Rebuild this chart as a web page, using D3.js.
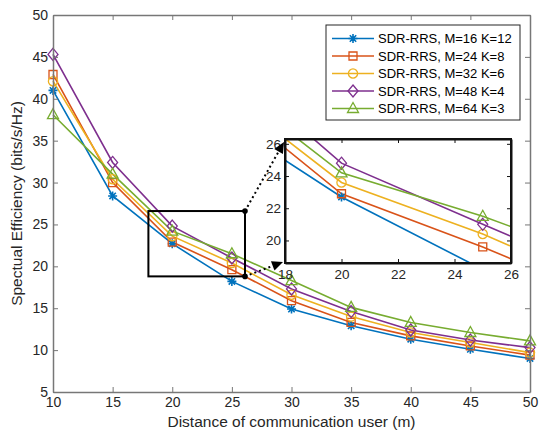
<!DOCTYPE html>
<html>
<head>
<meta charset="utf-8">
<title>Spectual Efficiency</title>
<script src="https://d3js.org/d3.v7.min.js"></script>
<style>
*{
	margin: 0;
	padding: 0;
}
body{
	background: #fff;
}
svg{
	display: block;
	font-family: "Liberation Sans", Arial, sans-serif;
}
</style>
</head>
<body>
<script>

var width = 540;
var height = 436;

// data
var distance = [10, 15, 20, 25, 30, 35, 40, 45, 50];
var m16k12 = [41.0, 28.4, 22.7, 18.2, 14.9, 12.9, 11.3, 10.1, 9.0];
var m24k8  = [42.9, 30.0, 22.9, 19.6, 15.9, 13.3, 11.7, 10.5, 9.4];
var m32k6  = [42.1, 30.4, 23.6, 20.4, 16.6, 14.0, 12.1, 10.9, 9.7];
var m48k4  = [45.3, 32.4, 24.8, 21.0, 17.3, 14.6, 12.4, 11.2, 10.3];
var m64k3  = [38.1, 31.0, 24.2, 21.5, 18.3, 15.1, 13.3, 12.1, 11.1];
var seriesNames = ['SDR-RRS, M=16 K=12', 'SDR-RRS, M=24 K=8', 'SDR-RRS, M=32 K=6', 'SDR-RRS, M=48 K=4', 'SDR-RRS, M=64 K=3'];

var xTicks = [10, 15, 20, 25, 30, 35, 40, 45, 50];
var yTicks = [5, 10, 15, 20, 25, 30, 35, 40, 45, 50];
var insetXTicks = [18, 20, 22, 24, 26];
var insetYTicks = [20, 22, 24, 26];
var zoomX = [18, 26.1];
var zoomY = [18.8, 26.6];

var colors = ['#0072BD', '#D95319', '#EDB120', '#7E2F8E', '#77AC30'];
var markers = ['star', 'square', 'circle', 'diamond', 'triangle'];
var axisColor = '#262626';
var frameColor = '#777';

var series = [m16k12, m24k8, m32k6, m48k4, m64k3].map(function(vals, i){
	return {name: seriesNames[i], color: colors[i], marker: markers[i],
		pts: vals.map(function(v, j){ return {x: distance[j], y: v}; })};
});

var svg = d3.select("body")
			.append("svg")
			.attr("width", width)
			.attr("height", height);

svg.append('rect').attr('width', width).attr('height', height).attr('fill', '#fff');

// marker path centred on 0,0
function markerPath(type){
	if(type == 'star') return 'M-4.5,0H4.5M0,-4.5V4.5M-3.2,-3.2L3.2,3.2M-3.2,3.2L3.2,-3.2';
	if(type == 'square') return 'M-4,-4H4V4H-4Z';
	if(type == 'circle') return 'M4.6,0A4.6,4.6 0 1,1 -4.6,0A4.6,4.6 0 1,1 4.6,0Z';
	if(type == 'diamond') return 'M0,-6L5,0L0,6L-5,0Z';
	return 'M0,-6L5.5,4L-5.5,4Z';
}

function drawSeries(g, x, y, clipId){
	var line = d3.line().x(function(d){ return x(d.x); }).y(function(d){ return y(d.y); });
	var layer = g.append('g');
	if(clipId) layer.attr('clip-path', 'url(#' + clipId + ')');
	layer.selectAll('path.ln').data(series).enter().append('path')
		.attr('class', 'ln')
		.attr('d', function(d){ return line(d.pts); })
		.attr('fill', 'none')
		.attr('stroke', function(d){ return d.color; })
		.attr('stroke-width', 1.6);
	series.forEach(function(s){
		layer.selectAll(null).data(s.pts).enter().append('path')
			.attr('transform', function(d){ return 'translate(' + x(d.x) + ',' + y(d.y) + ')'; })
			.attr('d', markerPath(s.marker))
			.attr('fill', 'none')
			.attr('stroke', s.color)
			.attr('stroke-width', s.marker == 'star' ? 1.6 : 1.3);
	});
}

function styleAxis(g, size, lineColor, lw){
	g.selectAll('.domain').attr('stroke', lineColor).attr('stroke-width', lw);
	g.selectAll('.tick line').attr('stroke', lineColor);
	g.selectAll('.tick text').attr('fill', axisColor).style('font-size', size + 'px').style('font-family', '"Liberation Sans", Arial, sans-serif');
}

// ---------- main axes
var pL = 53, pR = 530, pT = 15, pB = 392;
var x = d3.scaleLinear().domain([10, 50]).range([pL, pR]);
var y = d3.scaleLinear().domain([5, 50]).range([pB, pT]);

drawSeries(svg, x, y, null);

var gx = svg.append('g').attr('transform', 'translate(0,' + pB + ')')
	.call(d3.axisBottom(x).tickValues(xTicks).tickSizeInner(-5).tickSizeOuter(0).tickPadding(5));
styleAxis(gx, 14, frameColor, 1.5);
var gx2 = svg.append('g').attr('transform', 'translate(0,' + pT + ')')
	.call(d3.axisTop(x).tickValues(xTicks).tickSizeInner(-5).tickSizeOuter(0).tickFormat(''));
styleAxis(gx2, 14, frameColor, 1.5);
var gy = svg.append('g').attr('transform', 'translate(' + pL + ',0)')
	.call(d3.axisLeft(y).tickValues(yTicks).tickSizeInner(-5).tickSizeOuter(0).tickPadding(5));
styleAxis(gy, 14, frameColor, 1.5);
var gy2 = svg.append('g').attr('transform', 'translate(' + pR + ',0)')
	.call(d3.axisRight(y).tickValues(yTicks).tickSizeInner(-5).tickSizeOuter(0).tickFormat(''));
styleAxis(gy2, 14, frameColor, 1.5);

svg.append('text')
	.attr('x', (pL + pR) / 2).attr('y', 427)
	.attr('text-anchor', 'middle')
	.attr('fill', axisColor)
	.style('font-size', '15.5px')
	.text('Distance of communication user (m)');

svg.append('text')
	.attr('transform', 'translate(22,' + (pT + pB) / 2 + ') rotate(-90)')
	.attr('text-anchor', 'middle')
	.attr('fill', axisColor)
	.style('font-size', '15.5px')
	.text('Spectual Efficiency (bits/s/Hz)');

// zoom rectangle
svg.append('rect')
	.attr('x', x(zoomX[0])).attr('y', y(zoomY[1]))
	.attr('width', x(zoomX[1]) - x(zoomX[0]))
	.attr('height', y(zoomY[0]) - y(zoomY[1]))
	.attr('fill', 'none').attr('stroke', '#000').attr('stroke-width', 2);

// ---------- inset
var iL = 285, iR = 511, iT = 139, iB = 263;
var ix = d3.scaleLinear().domain([18, 26]).range([iL, iR]);
var iy = d3.scaleLinear().domain([18.6, 26.3]).range([iB, iT]);

svg.append('defs').append('clipPath').attr('id', 'insetClip')
	.append('rect').attr('x', iL).attr('y', iT).attr('width', iR - iL).attr('height', iB - iT);

var inset = svg.append('g');
inset.append('rect').attr('x', iL).attr('y', iT).attr('width', iR - iL).attr('height', iB - iT).attr('fill', '#fff');
drawSeries(inset, ix, iy, 'insetClip');

var ix1 = inset.append('g').attr('transform', 'translate(0,' + iB + ')')
	.call(d3.axisBottom(ix).tickValues(insetXTicks).tickSizeInner(-4).tickSizeOuter(0).tickPadding(6));
styleAxis(ix1, 13.5, '#111', 2);
var ix2 = inset.append('g').attr('transform', 'translate(0,' + iT + ')')
	.call(d3.axisTop(ix).tickValues(insetXTicks).tickSizeInner(-4).tickSizeOuter(0).tickFormat(''));
styleAxis(ix2, 13.5, '#111', 2);
var iy1 = inset.append('g').attr('transform', 'translate(' + iL + ',0)')
	.call(d3.axisLeft(iy).tickValues(insetYTicks).tickSizeInner(-4).tickSizeOuter(0).tickPadding(4));
styleAxis(iy1, 13.5, '#111', 2);
var iy2 = inset.append('g').attr('transform', 'translate(' + iR + ',0)')
	.call(d3.axisRight(iy).tickValues(insetYTicks).tickSizeInner(-4).tickSizeOuter(0).tickFormat(''));
styleAxis(iy2, 13.5, '#111', 2);
inset.append('rect').attr('x', iL).attr('y', iT).attr('width', iR - iL).attr('height', iB - iT)
	.attr('fill', 'none').attr('stroke', '#111').attr('stroke-width', 2);

// dotted arrows from the zoom box to the inset
var arrows = [
	{x1: x(zoomX[1]), y1: y(zoomY[1]), x2: iL - 1, y2: iT + 3},
	{x1: x(zoomX[1]), y1: y(zoomY[0]), x2: iL - 2, y2: iB - 1}
];
arrows.forEach(function(a){
	var ang = Math.atan2(a.y2 - a.y1, a.x2 - a.x1);
	var len = 11;
	var bx = a.x2 - len * Math.cos(ang), by = a.y2 - len * Math.sin(ang);
	svg.append('line')
		.attr('x1', a.x1).attr('y1', a.y1).attr('x2', bx).attr('y2', by)
		.attr('stroke', '#000').attr('stroke-width', 2).attr('stroke-dasharray', '2,3');
	svg.append('circle').attr('cx', a.x1).attr('cy', a.y1).attr('r', 2.8).attr('fill', '#000');
	var px = -Math.sin(ang) * 5, py = Math.cos(ang) * 5;
	svg.append('path')
		.attr('d', 'M' + a.x2 + ',' + a.y2 + 'L' + (bx + px) + ',' + (by + py) + 'L' + (bx - px) + ',' + (by - py) + 'Z')
		.attr('fill', '#000');
});

// ---------- legend
var lgX = 326, lgY = 25, lgW = 194, lgH = 95, rowH = 17.5;
var legend = svg.append('g');
legend.append('rect').attr('x', lgX).attr('y', lgY).attr('width', lgW).attr('height', lgH)
	.attr('fill', '#fff').attr('stroke', axisColor).attr('stroke-width', 1);
var rows = legend.selectAll('g.row').data(series).enter().append('g')
	.attr('class', 'row')
	.attr('transform', function(d, i){ return 'translate(' + lgX + ',' + (lgY + 13.5 + i * rowH) + ')'; });
rows.append('line').attr('x1', 6).attr('x2', 48).attr('y1', 0).attr('y2', 0)
	.attr('stroke', function(d){ return d.color; }).attr('stroke-width', 1.6);
rows.append('path').attr('transform', 'translate(27,0)')
	.attr('d', function(d){ return markerPath(d.marker); })
	.attr('fill', 'none').attr('stroke', function(d){ return d.color; })
	.attr('stroke-width', function(d){ return d.marker == 'star' ? 1.6 : 1.3; });
rows.append('text').attr('x', 52).attr('y', 4.5)
	.attr('fill', '#000')
	.style('font-size', '13px')
	.text(function(d){ return d.name; });

</script>
</body>
</html>
